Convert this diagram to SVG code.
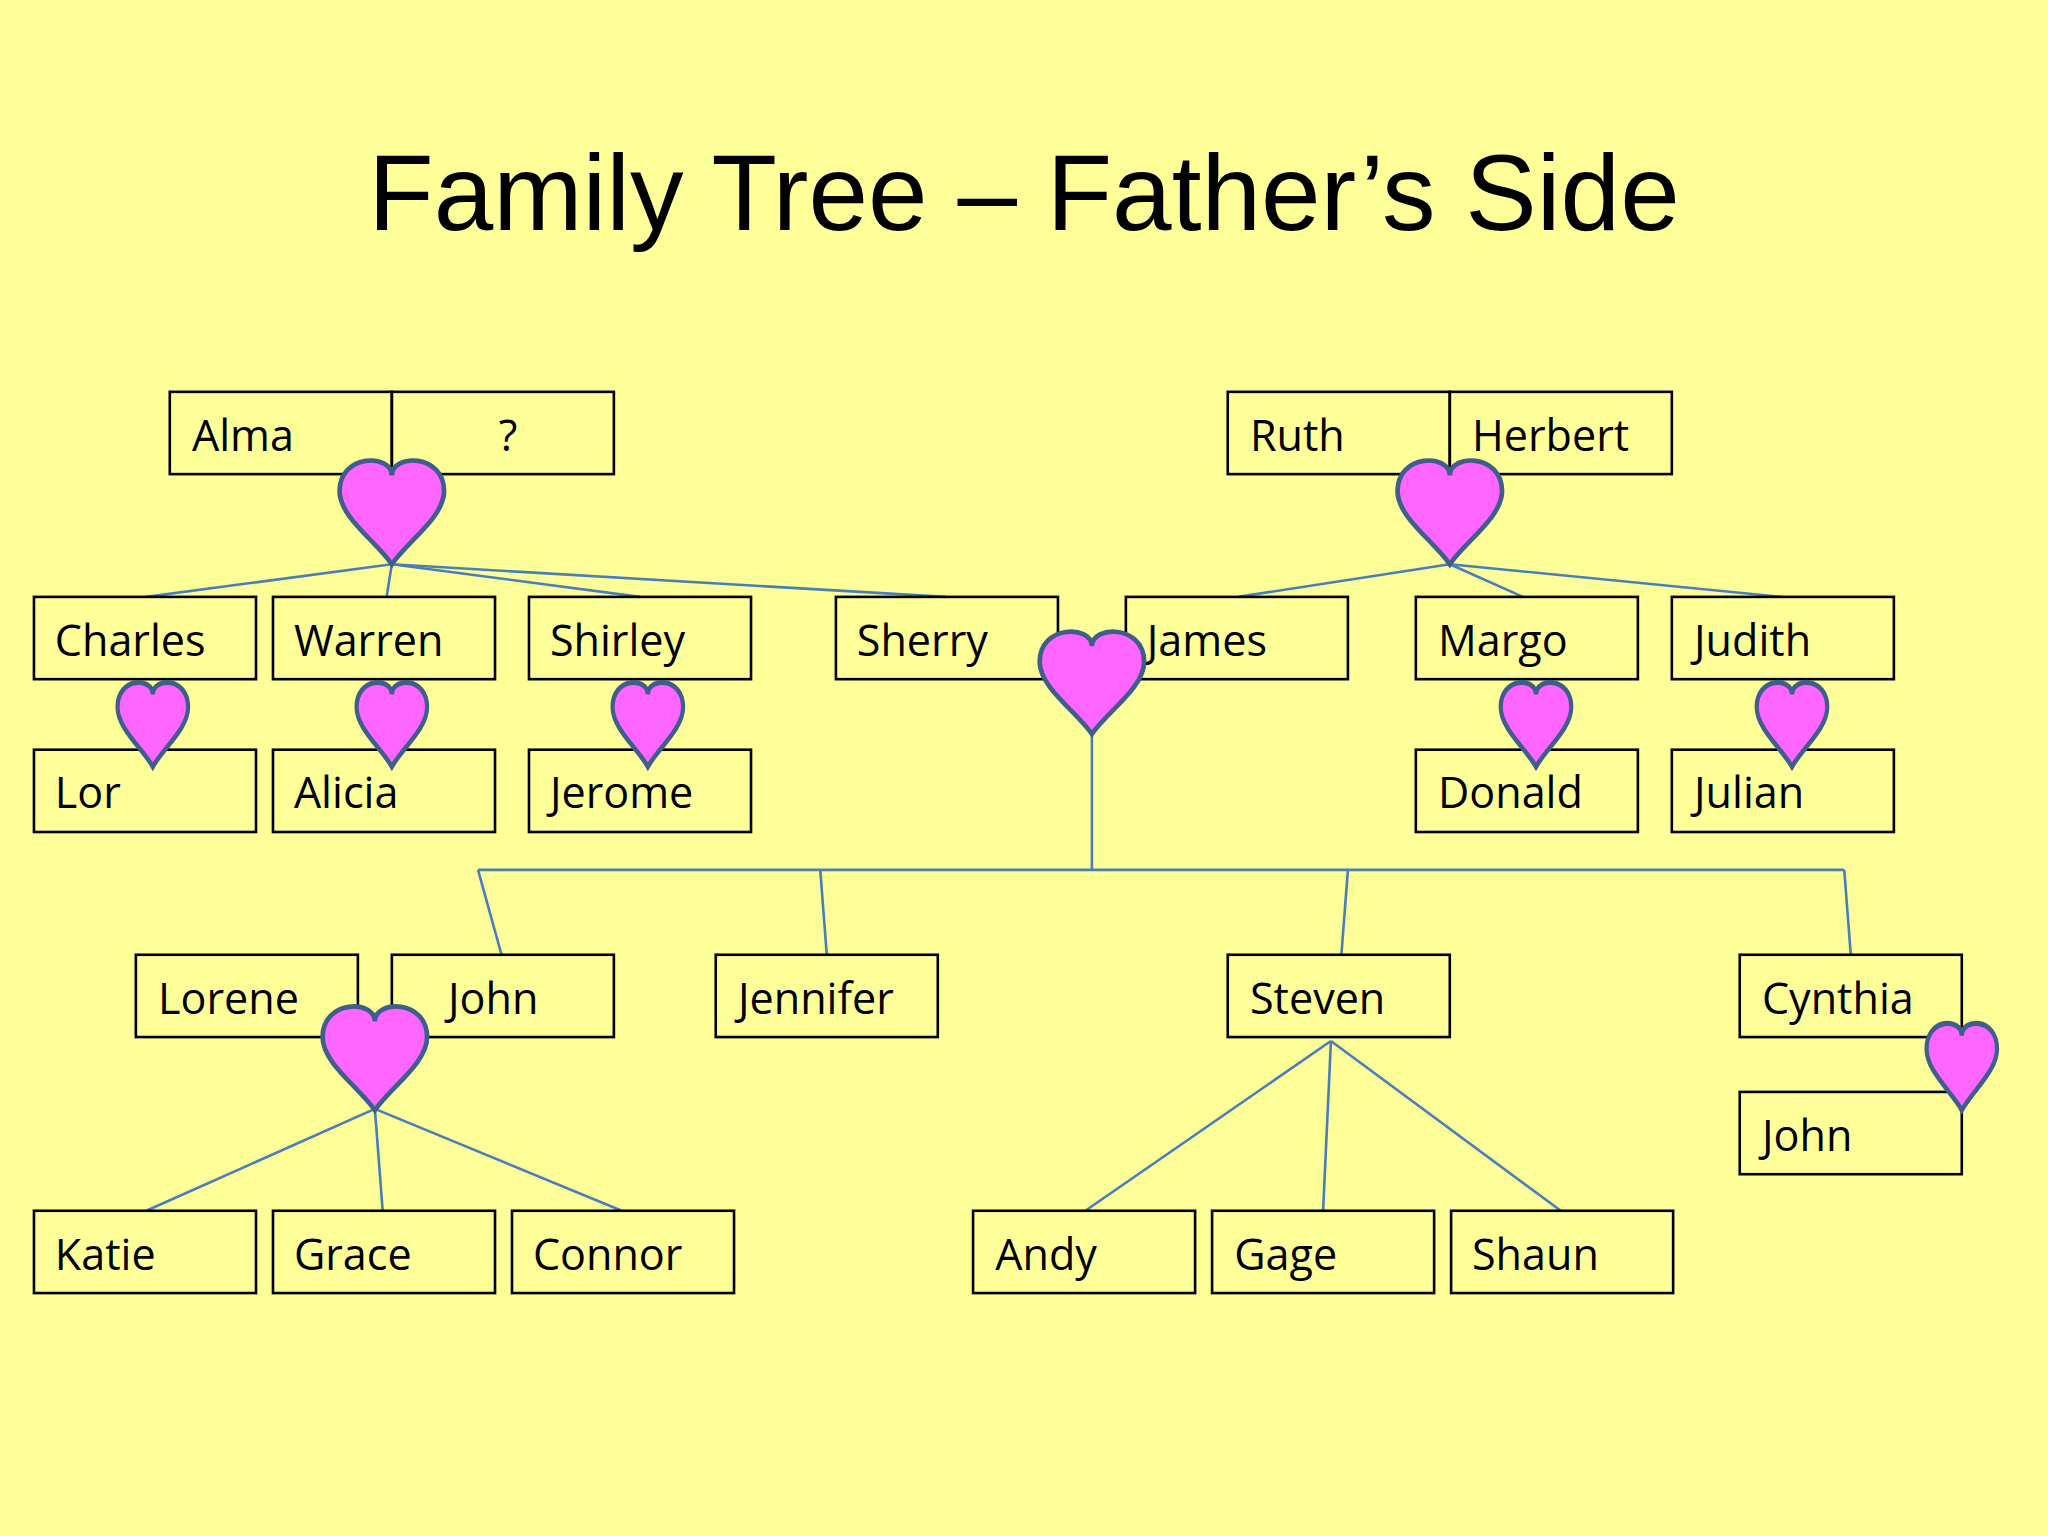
<svg xmlns="http://www.w3.org/2000/svg" width="2048" height="1536" viewBox="0 0 2048 1536">
<style>
.b rect{fill:none;stroke:#000;stroke-width:2}
text{font-family:"Open Sans","Noto Sans",sans-serif;font-size:33px;fill:#000}
.t{font-family:"Liberation Sans",Arial,sans-serif;font-size:82px}
.h{fill:#FF66FF;stroke:#3F5E8C;stroke-width:3.5}
#connectors line{stroke:#4A7EBB;stroke-width:2}
</style>
<defs>
<path id="heart" d="M0,0.15 C0,-0.06 -0.5,-0.06 -0.5,0.3 C-0.5,0.55 -0.15,0.78 0,1 C0.15,0.78 0.5,0.55 0.5,0.3 C0.5,-0.06 0,-0.06 0,0.15Z"/>
</defs>
<rect width="2048" height="1536" fill="#FFFF99"/>
<g transform="scale(1.30612)">
<text class="t" x="784" y="176" text-anchor="middle">Family Tree – Father’s Side</text>
<g id="connectors">
<line x1="300" y1="432" x2="112" y2="457"/><line x1="300" y1="432" x2="296" y2="457"/><line x1="300" y1="432" x2="490" y2="457"/><line x1="300" y1="432" x2="724" y2="457"/>
<line x1="1110" y1="432" x2="948" y2="457"/><line x1="1110" y1="432" x2="1166" y2="457"/><line x1="1110" y1="432" x2="1364" y2="457"/>
<line x1="836" y1="560" x2="836" y2="666"/><line x1="366" y1="666" x2="1412" y2="666"/>
<line x1="366" y1="666" x2="384" y2="731"/><line x1="628" y1="666" x2="633" y2="731"/><line x1="1032" y1="666" x2="1027" y2="731"/><line x1="1412" y1="666" x2="1417" y2="731"/>
<line x1="287" y1="849" x2="112" y2="927"/><line x1="287" y1="849" x2="293" y2="927"/><line x1="287" y1="849" x2="476" y2="927"/>
<line x1="1019" y1="797" x2="831" y2="927"/><line x1="1019" y1="797" x2="1013" y2="927"/><line x1="1019" y1="797" x2="1195" y2="927"/>
</g>
<g id="n-alma" class="b"><rect x="130" y="300" width="170" height="63"/><text x="147" y="345">Alma</text></g>
<g id="n-unknown" class="b"><rect x="300" y="300" width="170" height="63"/><text x="389" y="345" text-anchor="middle">?</text></g>
<g id="n-ruth" class="b"><rect x="940" y="300" width="170" height="63"/><text x="957" y="345">Ruth</text></g>
<g id="n-herbert" class="b"><rect x="1110" y="300" width="170" height="63"/><text x="1127" y="345">Herbert</text></g>
<g id="n-charles" class="b"><rect x="26" y="457" width="170" height="63"/><text x="42" y="502">Charles</text></g>
<g id="n-warren" class="b"><rect x="209" y="457" width="170" height="63"/><text x="225" y="502">Warren</text></g>
<g id="n-shirley" class="b"><rect x="405" y="457" width="170" height="63"/><text x="421" y="502">Shirley</text></g>
<g id="n-sherry" class="b"><rect x="640" y="457" width="170" height="63"/><text x="656" y="502">Sherry</text></g>
<g id="n-james" class="b"><rect x="862" y="457" width="170" height="63"/><text x="878" y="502">James</text></g>
<g id="n-margo" class="b"><rect x="1084" y="457" width="170" height="63"/><text x="1101" y="502">Margo</text></g>
<g id="n-judith" class="b"><rect x="1280" y="457" width="170" height="63"/><text x="1297" y="502">Judith</text></g>
<g id="n-lor" class="b"><rect x="26" y="574" width="170" height="63"/><text x="42" y="619">Lor</text></g>
<g id="n-alicia" class="b"><rect x="209" y="574" width="170" height="63"/><text x="225" y="619">Alicia</text></g>
<g id="n-jerome" class="b"><rect x="405" y="574" width="170" height="63"/><text x="421" y="619">Jerome</text></g>
<g id="n-donald" class="b"><rect x="1084" y="574" width="170" height="63"/><text x="1101" y="619">Donald</text></g>
<g id="n-julian" class="b"><rect x="1280" y="574" width="170" height="63"/><text x="1297" y="619">Julian</text></g>
<g id="n-lorene" class="b"><rect x="104" y="731" width="170" height="63"/><text x="121" y="776">Lorene</text></g>
<g id="n-john" class="b"><rect x="300" y="731" width="170" height="63"/><text x="343" y="776">John</text></g>
<g id="n-jennifer" class="b"><rect x="548" y="731" width="170" height="63"/><text x="565" y="776">Jennifer</text></g>
<g id="n-steven" class="b"><rect x="940" y="731" width="170" height="63"/><text x="957" y="776">Steven</text></g>
<g id="n-cynthia" class="b"><rect x="1332" y="731" width="170" height="63"/><text x="1349" y="776">Cynthia</text></g>
<g id="n-john2" class="b"><rect x="1332" y="836" width="170" height="63"/><text x="1349" y="881">John</text></g>
<g id="n-katie" class="b"><rect x="26" y="927" width="170" height="63"/><text x="42" y="972">Katie</text></g>
<g id="n-grace" class="b"><rect x="209" y="927" width="170" height="63"/><text x="225" y="972">Grace</text></g>
<g id="n-connor" class="b"><rect x="392" y="927" width="170" height="63"/><text x="408" y="972">Connor</text></g>
<g id="n-andy" class="b"><rect x="745" y="927" width="170" height="63"/><text x="762" y="972">Andy</text></g>
<g id="n-gage" class="b"><rect x="928" y="927" width="170" height="63"/><text x="945" y="972">Gage</text></g>
<g id="n-shaun" class="b"><rect x="1111" y="927" width="170" height="63"/><text x="1127" y="972">Shaun</text></g>
<g id="hearts">
<use href="#heart" class="h" vector-effect="non-scaling-stroke" transform="translate(300,352) scale(80,80)" style="stroke-width:0.045"/>
<use href="#heart" class="h" transform="translate(1110,352) scale(80,80)" style="stroke-width:0.045"/>
<use href="#heart" class="h" transform="translate(836,483) scale(80,79)" style="stroke-width:0.045"/>
<use href="#heart" class="h" transform="translate(287,770) scale(80,80)" style="stroke-width:0.045"/>
<use href="#heart" class="h" transform="translate(117,522) scale(54,65)" style="stroke-width:0.06"/>
<use href="#heart" class="h" transform="translate(300,522) scale(54,65)" style="stroke-width:0.06"/>
<use href="#heart" class="h" transform="translate(496,522) scale(54,65)" style="stroke-width:0.06"/>
<use href="#heart" class="h" transform="translate(1176,522) scale(54,65)" style="stroke-width:0.06"/>
<use href="#heart" class="h" transform="translate(1372,522) scale(54,65)" style="stroke-width:0.06"/>
<use href="#heart" class="h" transform="translate(1502,783) scale(54,67)" style="stroke-width:0.06"/>
</g>
</g>
</svg>
